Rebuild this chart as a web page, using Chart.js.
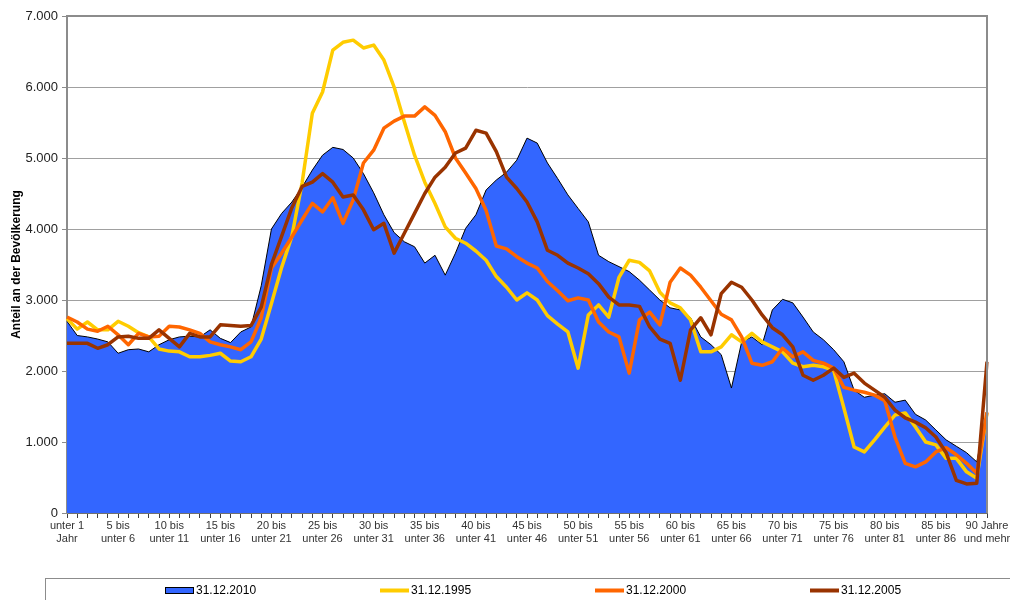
<!DOCTYPE html>
<html lang="de">
<head>
<meta charset="utf-8">
<title>Altersstruktur der Bevölkerung</title>
<script src="https://cdn.jsdelivr.net/npm/chart.js@4/dist/chart.umd.min.js"></script>
<style>
  html, body { margin: 0; padding: 0; background: #fff; }
  canvas { display: block; }
</style>
</head>
<body>
<canvas id="canvas" width="1010" height="600"></canvas>
<script>
// Altersjahre 0 .. 90 (90 = "90 Jahre und mehr")
const ages = []
for (let a = 0; a <= 90; a++) ages.push(a)

const tickLabels = [
  ['unter 1', 'Jahr'], ['5 bis', 'unter 6'], ['10 bis', 'unter 11'], ['15 bis', 'unter 16'],
  ['20 bis', 'unter 21'], ['25 bis', 'unter 26'], ['30 bis', 'unter 31'], ['35 bis', 'unter 36'],
  ['40 bis', 'unter 41'], ['45 bis', 'unter 46'], ['50 bis', 'unter 51'], ['55 bis', 'unter 56'],
  ['60 bis', 'unter 61'], ['65 bis', 'unter 66'], ['70 bis', 'unter 71'], ['75 bis', 'unter 76'],
  ['80 bis', 'unter 81'], ['85 bis', 'unter 86'], ['90 Jahre', 'und mehr'],
]

const yTicks = [0, 1000, 2000, 3000, 4000, 5000, 6000, 7000]

const stand2010 = [
  2700, 2500, 2480, 2450, 2410, 2250, 2300, 2310, 2270, 2370,
  2440, 2480, 2490, 2480, 2580, 2460, 2400, 2550, 2620, 3200,
  4000, 4220, 4380, 4590, 4830, 5040, 5150, 5120, 5000, 4780,
  4510, 4200, 3950, 3820, 3750, 3520, 3630, 3350, 3660, 4010,
  4200, 4550, 4690, 4800, 4970, 5280, 5210, 4930, 4710, 4480,
  4290, 4100, 3630, 3540, 3470, 3400, 3280, 3140, 3000, 2890,
  2860, 2750, 2480, 2370, 2230, 1760, 2410, 2480, 2370, 2860,
  3010, 2960, 2760, 2550, 2440, 2300, 2130, 1730, 1630, 1660,
  1680, 1560, 1590, 1390, 1310, 1170, 1030, 940, 850, 720,
  1450,
]

const stand1995 = [
  2740, 2590, 2690, 2580, 2580, 2700, 2630, 2540, 2480, 2310,
  2280, 2270, 2200, 2200, 2220, 2250, 2140, 2130, 2200, 2450,
  2950, 3460, 3900, 4650, 5630, 5930, 6520, 6630, 6660, 6550,
  6590, 6380, 6000, 5510, 5040, 4660, 4360, 4030, 3870, 3800,
  3690, 3560, 3330, 3180, 3000, 3100, 3000, 2780, 2660, 2550,
  2040, 2790, 2930, 2760, 3320, 3560, 3530, 3410, 3110, 2960,
  2890, 2720, 2270, 2270, 2340, 2510, 2410, 2530, 2410, 2340,
  2270, 2110, 2060, 2080, 2060, 2010, 1480, 930, 860, 1030,
  1210, 1380, 1410, 1210, 1000, 960, 770, 770, 580, 490,
  1410,
]

const stand2000 = [
  2760, 2690, 2590, 2560, 2630, 2510, 2370, 2530, 2480, 2490,
  2630, 2620, 2580, 2530, 2410, 2370, 2340, 2300, 2410, 2750,
  3450, 3660, 3890, 4130, 4360, 4240, 4440, 4080, 4410, 4930,
  5110, 5420, 5520, 5590, 5590, 5720, 5600, 5370, 5000, 4790,
  4570, 4260, 3760, 3720, 3610, 3520, 3450, 3260, 3130, 2990,
  3030, 3000, 2690, 2550, 2480, 1970, 2720, 2830, 2650, 3250,
  3450, 3350, 3180, 2990, 2800, 2720, 2480, 2110, 2080, 2130,
  2320, 2200, 2270, 2150, 2110, 2040, 1770, 1730, 1700, 1660,
  1580, 1070, 700, 650, 720, 860, 920, 820, 700, 560,
  1420,
]

const stand2005 = [
  2390, 2390, 2390, 2320, 2370, 2480, 2490, 2460, 2460, 2580,
  2460, 2340, 2530, 2480, 2480, 2650, 2640, 2630, 2640, 2900,
  3500, 3900, 4300, 4600, 4660, 4780, 4660, 4450, 4480, 4270,
  3990, 4080, 3660, 3940, 4220, 4500, 4730, 4870, 5070, 5140,
  5390, 5350, 5090, 4730, 4570, 4380, 4100, 3700, 3630, 3520,
  3450, 3370, 3230, 3040, 2930, 2930, 2910, 2620, 2450, 2390,
  1870, 2580, 2750, 2510, 3090, 3250, 3180, 3000, 2790, 2610,
  2510, 2340, 1940, 1870, 1940, 2040, 1910, 1970, 1830, 1730,
  1630, 1450, 1340, 1280, 1200, 1070, 850, 460, 410, 420,
  2130,
]

const BLUE = '#3366ff'
const YELLOW = '#ffcc00'
const ORANGE = '#ff6600'
const BROWN = '#993300'

const FONT = '"Liberation Sans", Arial, sans-serif'
Chart.defaults.font.family = FONT

function fmt(v) {
  return String(v).replace(/\B(?=(\d{3})+(?!\d))/g, '.')
}

// Rahmen oben/rechts um die Zeichenfläche
const frame = {
  id: 'frame',
  afterDatasetsDraw(chart) {
    const { ctx, chartArea: a } = chart
    ctx.save()
    ctx.strokeStyle = '#8c8c8c'
    ctx.lineWidth = 2
    ctx.beginPath()
    ctx.moveTo(a.left, a.top)
    ctx.lineTo(a.right, a.top)
    ctx.lineTo(a.right, a.bottom)
    ctx.stroke()
    ctx.restore()
  },
}

// Legende im Kasten unter der Grafik
const boxLegend = {
  id: 'boxLegend',
  afterDraw(chart) {
    const ctx = chart.ctx
    const items = [0, 1, 2, 3]
    const startX = [165, 380, 595, 810]
    const y = 590
    ctx.save()
    ctx.strokeStyle = '#8c8c8c'
    ctx.lineWidth = 1
    ctx.strokeRect(45.5, 578.5, 1000, 40)
    ctx.font = '12px ' + FONT
    ctx.textBaseline = 'middle'
    ctx.fillStyle = '#000'
    items.forEach((i, k) => {
      const ds = chart.data.datasets[i]
      const x = startX[k]
      if (ds.fill) {
        ctx.fillStyle = ds.backgroundColor
        ctx.fillRect(x, y - 3, 29, 7)
        ctx.strokeStyle = '#000'
        ctx.strokeRect(x + 0.5, y - 2.5, 28, 6)
      } else {
        ctx.strokeStyle = ds.borderColor
        ctx.lineWidth = 4
        ctx.beginPath()
        ctx.moveTo(x, y + 0.5)
        ctx.lineTo(x + 29, y + 0.5)
        ctx.stroke()
      }
      ctx.fillStyle = '#000'
      ctx.fillText(ds.label, x + 31, y + 1)
    })
    ctx.restore()
  },
}

const data = {
  labels: ages,
  datasets: [
    {
      label: '31.12.2010',
      data: stand2010,
      fill: 'origin',
      backgroundColor: BLUE,
      borderColor: '#000',
      borderWidth: 1,
      order: 4,
    },
    {
      label: '31.12.1995',
      data: stand1995,
      fill: false,
      borderColor: YELLOW,
      backgroundColor: YELLOW,
      borderWidth: 3.5,
      order: 3,
    },
    {
      label: '31.12.2000',
      data: stand2000,
      fill: false,
      borderColor: ORANGE,
      backgroundColor: ORANGE,
      borderWidth: 3.5,
      order: 2,
    },
    {
      label: '31.12.2005',
      data: stand2005,
      fill: false,
      borderColor: BROWN,
      backgroundColor: BROWN,
      borderWidth: 3.5,
      order: 1,
    },
  ],
}

const config = {
  type: 'line',
  data: data,
  plugins: [frame, boxLegend],
  options: {
    responsive: false,
    animation: false,
    layout: { padding: { top: 16, right: 23, bottom: 0, left: 0 } },
    elements: {
      point: { radius: 0, hoverRadius: 0 },
      line: { tension: 0, borderJoinStyle: 'round' },
    },
    plugins: {
      legend: { display: false },
      tooltip: { enabled: false },
    },
    scales: {
      x: {
        type: 'category',
        offset: false,
        afterFit(scale) {
          scale.height = 87
          scale.paddingRight = 0
        },
        border: { display: true, color: '#404040', width: 1.5 },
        grid: {
          drawOnChartArea: false,
          drawTicks: true,
          tickLength: 5,
          tickColor: '#404040',
        },
        ticks: {
          autoSkip: false,
          maxRotation: 0,
          minRotation: 0,
          padding: 2,
          color: '#333',
          font: { size: 11, lineHeight: 1.15 },
          callback: (value, index) => (index % 5 === 0 ? tickLabels[index / 5] : ''),
        },
      },
      y: {
        min: 0,
        max: 7000,
        afterFit(scale) { scale.width = 67 },
        afterBuildTicks(scale) { scale.ticks = yTicks.map(v => ({ value: v })) },
        border: { display: true, color: '#8c8c8c', width: 2 },
        grid: {
          color: '#a0a0a0',
          lineWidth: 1,
          borderDash: [2, 1],
          drawTicks: true,
          tickLength: 5,
          tickColor: '#8c8c8c',
          tickBorderDash: [],
        },
        ticks: {
          padding: 4,
          color: '#222',
          font: { size: 13 },
          callback: v => fmt(v),
        },
        title: {
          display: true,
          text: 'Anteil an der Bevölkerung',
          color: '#000',
          font: { size: 12, weight: 'bold' },
          padding: { top: 9, bottom: 0 },
        },
      },
    },
  },
}

const canvas = document.getElementById('canvas')
const chart = new Chart(canvas, config)
</script>
</body>
</html>
